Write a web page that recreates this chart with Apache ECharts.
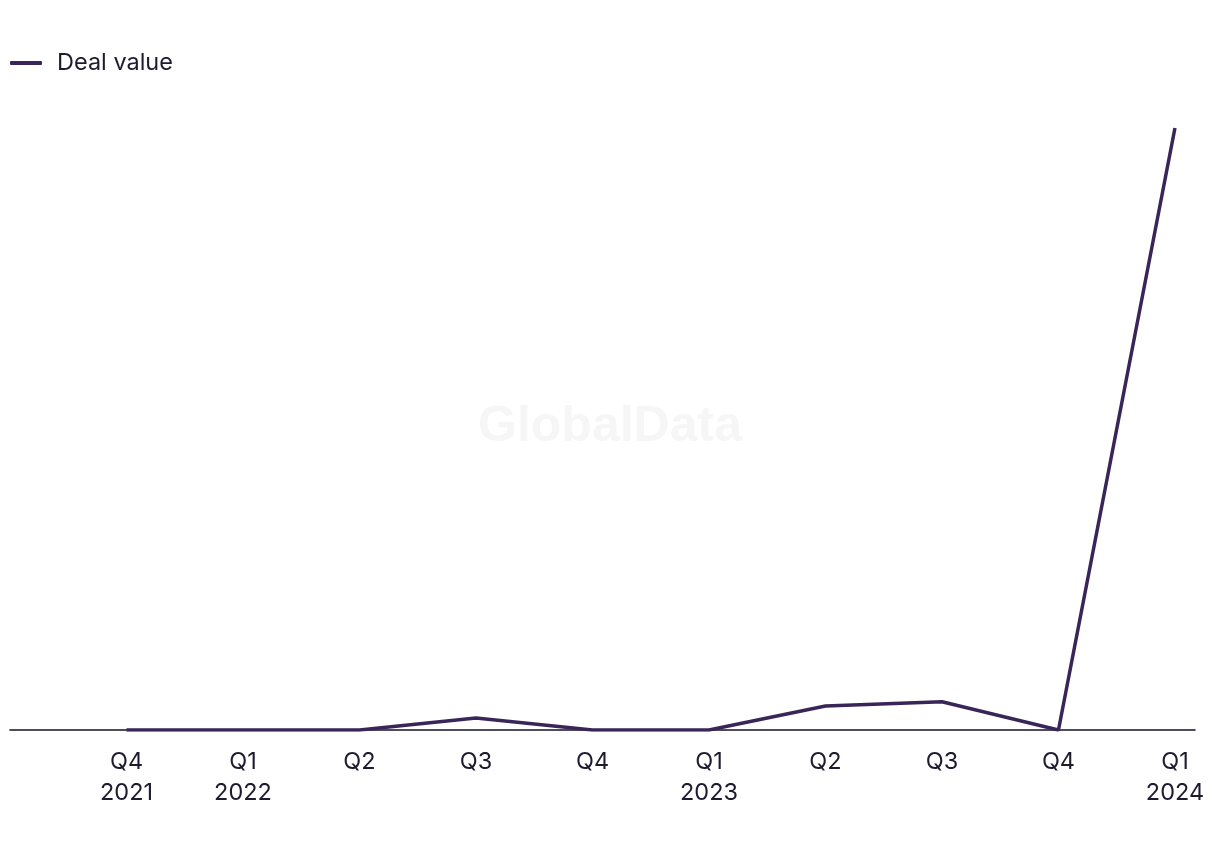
<!DOCTYPE html>
<html>
<head>
<meta charset="utf-8">
<script src="https://cdn.jsdelivr.net/npm/echarts@6/dist/echarts.min.js"></script>
<style>html,body{margin:0;padding:0;background:#fff}#c{width:1220px;height:850px}</style>
</head>
<body>
<div id="c"></div>
<script>
const quarters = ['Q4\n2021','Q1\n2022','Q2','Q3','Q4','Q1\n2023','Q2','Q3','Q4','Q1\n2024'];
const dealValue = [0, 0, 0, 20, 0, 0, 40, 47, 0, 1000];
const seriesName = 'Deal value';

const chart = echarts.init(document.getElementById('c'));
const FONT = 'Inter';
chart.setOption({
  backgroundColor: '#fff',
  animation: false,
  graphic: [{
    type: 'text', left: 'center', top: 402,
    style: { text: 'GlobalData', font: 'bold 50px "Liberation Sans"', fill: '#f6f6f6' }
  }],
  legend: {
    left: 10, top: 51, itemWidth: 32, itemHeight: 4, itemGap: 20, padding: 0,
    icon: 'roundRect',
    textStyle: { fontFamily: FONT, fontSize: 23.5, color: '#1d1b2e', padding: [0,0,0,10] },
    data: [seriesName]
  },
  grid: { left: 10, right: 25, top: 128, bottom: 120, containLabel: false },
  xAxis: {
    type: 'value', min: -1, max: 9.172, interval: 1,
    splitLine: { show: false },
    axisTick: { show: false },
    axisLine: { show: true, onZero: false, lineStyle: { color: '#15132a', width: 1.6 } },
    axisLabel: {
      showMaxLabel: false, showMinLabel: true,
      margin: 16, fontFamily: FONT, fontSize: 23.5, lineHeight: 31, color: '#1d1b2e',
      formatter: v => { const i = Math.round(v); return (i >= 0 && i < quarters.length && Math.abs(v - i) < 1e-6) ? quarters[i] : ''; }
    }
  },
  yAxis: {
    type: 'value', min: 0, max: 1000,
    show: false, splitLine: { show: false }
  },
  series: [{
    name: seriesName, type: 'line',
    data: dealValue.map((v, i) => [i, v]),
    symbol: 'none',
    lineStyle: { color: '#3a2559', width: 3.5 },
    itemStyle: { color: '#3a2559' }
  }]
});
</script>
</body>
</html>
